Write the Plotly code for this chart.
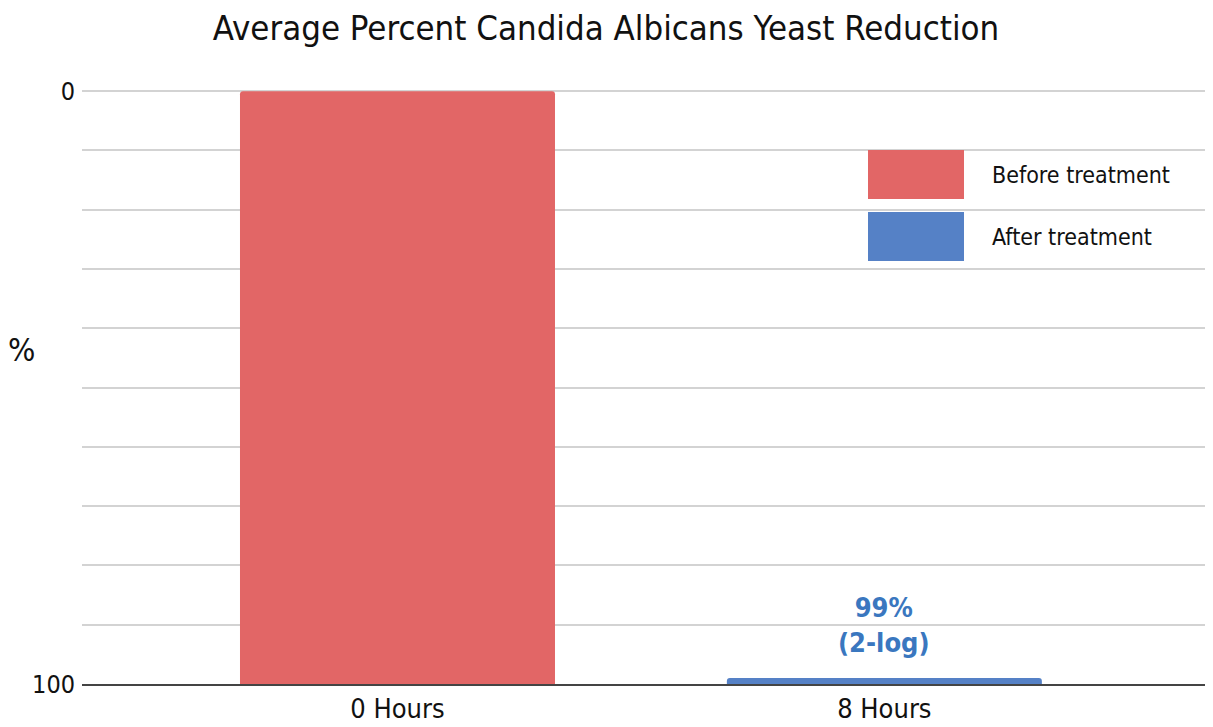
import plotly.graph_objects as go

categories = ["0 Hours", "8 Hours"]
series_names = ["Before treatment", "After treatment"]
values = [100, 1]
bar_colors = ["#E26666", "#5581C6"]
annotation_text = "99%<br>(2-log)"
y_ticks = list(range(0, 101, 10))
y_tick_text = ["100" if v == 0 else ("0" if v == 100 else "") for v in y_ticks]

FONT = "Liberation Sans Narrow, DejaVu Sans Condensed, Liberation Sans, sans-serif"

# the page body adds an 8px margin around the figure
OFF = 8
FIG_W, FIG_H = 1205, 719
PL, PR, PT, PB = 82, 1213, 90, 684  # plot-area edges in window pixels
PW, PH = PR - PL, PB - PT


def px_x(p):
    return (p - PL) / PW


def px_y(p):
    return (PB - p) / PH


fig = go.Figure()
fig.add_trace(go.Bar(
    x=categories, y=values, marker=dict(color=bar_colors, line=dict(width=0)),
    width=0.647, showlegend=False, hoverinfo="skip",
))

fig.update_layout(
    width=FIG_W, height=FIG_H,
    margin=dict(l=PL - OFF, r=FIG_W + OFF - PR, t=PT - OFF, b=FIG_H + OFF - PB),
    paper_bgcolor="white", plot_bgcolor="white",
    barcornerradius=3,
    title=dict(text="Average Percent Candida Albicans Yeast Reduction",
               x=(606 - OFF) / FIG_W, xanchor="center", xref="container",
               y=1 - (28 - OFF) / FIG_H, yanchor="middle",
               font=dict(family=FONT, size=34.5, color="#111")),
    font=dict(family=FONT, color="#111"),
    xaxis=dict(range=[-0.648, 1.675], showgrid=False, showline=True,
               linecolor="#444", linewidth=2, ticks="", automargin=False,
               tickfont=dict(size=27, color="#111")),
    yaxis=dict(range=[0, 100.2], tickvals=y_ticks, ticktext=y_tick_text,
               showgrid=True, gridcolor="#d3d3d3", gridwidth=2, automargin=False,
               zeroline=False, showline=False, ticks="", ticklabelstandoff=6,
               tickfont=dict(size=25, color="#111")),
    showlegend=False,
)

# y-axis title "%"
fig.add_annotation(text="%", xref="paper", yref="paper", x=px_x(21), y=px_y(350),
                   xanchor="center", yanchor="middle", showarrow=False,
                   font=dict(family=FONT, size=32, color="#111"))

# data label on second bar
fig.add_annotation(text="<b>" + annotation_text + "</b>", x=categories[1], y=values[1],
                   yref="y", yanchor="bottom", yshift=18, showarrow=False,
                   font=dict(family=FONT, size=27, color="#3A77BF"))

# manual legend
legend_rows = [(150, 199), (212, 261)]
for name, col, (top, bot) in zip(series_names, bar_colors, legend_rows):
    fig.add_shape(type="rect", xref="paper", yref="paper",
                  x0=px_x(868), x1=px_x(964), y0=px_y(bot), y1=px_y(top),
                  fillcolor=col, line=dict(width=0))
    fig.add_annotation(text=name, xref="paper", yref="paper",
                       x=px_x(990), y=px_y((top + bot) / 2), xanchor="left", yanchor="middle",
                       showarrow=False, font=dict(family=FONT, size=23, color="#111"))

fig.write_html("out.html")
